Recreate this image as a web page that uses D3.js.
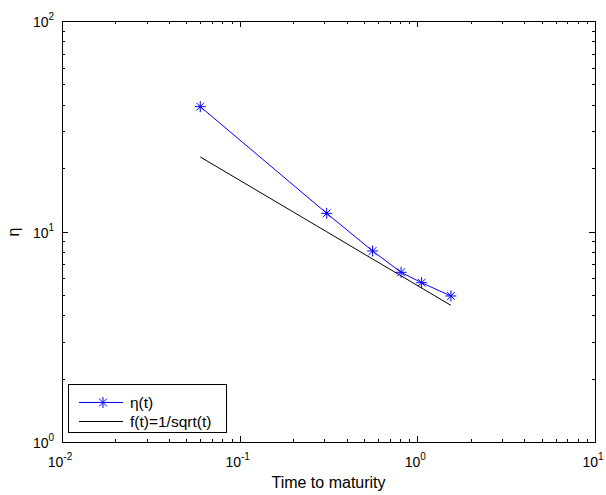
<!DOCTYPE html>
<html>
<head>
<meta charset="utf-8">
<script src="https://cdn.jsdelivr.net/npm/d3@7"></script>
<style>
  body { margin: 0; background: #fff; }
  svg { display: block; font-family: "Liberation Sans", Arial, sans-serif; }
</style>
</head>
<body>
<script>
// values
const tValues = [0.06, 0.309, 0.56, 0.81, 1.057, 1.545];
const etaValues = [39.2, 12.2, 8.08, 6.4, 5.71, 4.94];
const fValues = [22.6, 9.97, 7.40, 6.16, 5.39, 4.46];
const xTicks = [0.01, 0.1, 1, 10];
const yTicks = [1, 10, 100];
const legendLabels = ['η(t)', 'f(t)=1/sqrt(t)'];

let width = 606, height = 495;
let padL = 62, padR = 595, padT = 21, padB = 442;

let svg = d3.select('body').append('svg')
  .attr('width', width)
  .attr('height', height);

let xScale = d3.scaleLog().domain([0.01, 10]).range([padL, padR]);
let yScale = d3.scaleLog().domain([1, 100]).range([padB, padT]);

// minor ticks
let minor = [];
for (let d = 0.01; d < 10; d *= 10) for (let k = 2; k <= 9; k++) minor.push(d * k);
let minorY = [];
for (let d = 1; d < 100; d *= 10) for (let k = 2; k <= 9; k++) minorY.push(d * k);

let tickG = svg.append('g').attr('stroke', '#000').attr('stroke-width', 1);
minor.forEach(v => {
  let x = Math.round(xScale(v)) + 0.5;
  tickG.append('line').attr('x1', x).attr('x2', x).attr('y1', padB).attr('y2', padB - 3);
  tickG.append('line').attr('x1', x).attr('x2', x).attr('y1', padT).attr('y2', padT + 3);
});
xTicks.forEach(v => {
  let x = Math.round(xScale(v)) + 0.5;
  tickG.append('line').attr('x1', x).attr('x2', x).attr('y1', padB).attr('y2', padB - 6);
  tickG.append('line').attr('x1', x).attr('x2', x).attr('y1', padT).attr('y2', padT + 6);
});
minorY.forEach(v => {
  let y = Math.round(yScale(v)) + 0.5;
  tickG.append('line').attr('y1', y).attr('y2', y).attr('x1', padL).attr('x2', padL + 3);
  tickG.append('line').attr('y1', y).attr('y2', y).attr('x1', padR).attr('x2', padR - 3);
});
yTicks.forEach(v => {
  let y = Math.round(yScale(v)) + 0.5;
  tickG.append('line').attr('y1', y).attr('y2', y).attr('x1', padL).attr('x2', padL + 6);
  tickG.append('line').attr('y1', y).attr('y2', y).attr('x1', padR).attr('x2', padR - 6);
});

svg.append('rect')
  .attr('x', padL + 0.5).attr('y', padT + 0.5)
  .attr('width', padR - padL).attr('height', padB - padT)
  .attr('fill', 'none').attr('stroke', '#000');

// tick labels: 10^n
xTicks.forEach(v => {
  let t = svg.append('text')
    .attr('x', xScale(v) - 2).attr('y', 467)
    .attr('text-anchor', 'middle').attr('font-size', 14);
  t.append('tspan').text('10');
  t.append('tspan').attr('dy', -7).attr('font-size', 10).text(Math.round(Math.log10(v)));
});
yTicks.forEach(v => {
  let t = svg.append('text')
    .attr('x', 33).attr('y', yScale(v) + 6)
    .attr('font-size', 14);
  t.append('tspan').text('10');
  t.append('tspan').attr('dy', -7).attr('font-size', 10).text(Math.round(Math.log10(v)));
});

svg.append('text')
  .attr('x', 328.5).attr('y', 488)
  .attr('text-anchor', 'middle').attr('font-size', 16)
  .text('Time to maturity');
svg.append('text')
  .attr('transform', 'translate(19,232) rotate(-90)')
  .attr('text-anchor', 'middle').attr('font-size', 16)
  .text('η');

let line = d3.line().x(d => xScale(d[0])).y(d => yScale(d[1]));

svg.append('path')
  .datum(d3.zip(tValues, fValues))
  .attr('d', line)
  .attr('fill', 'none').attr('stroke', '#000').attr('stroke-width', 1);

svg.append('path')
  .datum(d3.zip(tValues, etaValues))
  .attr('d', line)
  .attr('fill', 'none').attr('stroke', '#0000ff').attr('stroke-width', 1);

let star = (g, r) => {
  g.append('path')
    .attr('d', `M${-r},0H${r}M0,${-r}V${r}M${-r * 0.7},${-r * 0.7}L${r * 0.7},${r * 0.7}M${-r * 0.7},${r * 0.7}L${r * 0.7},${-r * 0.7}`)
    .attr('stroke', '#0000ff').attr('stroke-width', 1).attr('fill', 'none');
};

svg.selectAll('g.mark')
  .data(d3.zip(tValues, etaValues))
  .enter().append('g')
  .attr('class', 'mark')
  .attr('transform', d => `translate(${xScale(d[0])},${yScale(d[1])})`)
  .each(function() { star(d3.select(this), 5.5); });

// legend
let lg = svg.append('g');
lg.append('rect')
  .attr('x', 68.5).attr('y', 384.5).attr('width', 158).attr('height', 48)
  .attr('fill', '#fff').attr('stroke', '#000');
lg.append('line').attr('x1', 79).attr('x2', 123).attr('y1', 402.5).attr('y2', 402.5)
  .attr('stroke', '#0000ff');
star(lg.append('g').attr('transform', 'translate(103,402.5)'), 5.5);
lg.append('line').attr('x1', 79).attr('x2', 123).attr('y1', 421.5).attr('y2', 421.5)
  .attr('stroke', '#000');
legendLabels.forEach((s, i) => {
  lg.append('text').attr('x', 130).attr('y', 407.5 + i * 19.5)
    .attr('font-size', 15.5).text(s);
});
</script>
</body>
</html>
